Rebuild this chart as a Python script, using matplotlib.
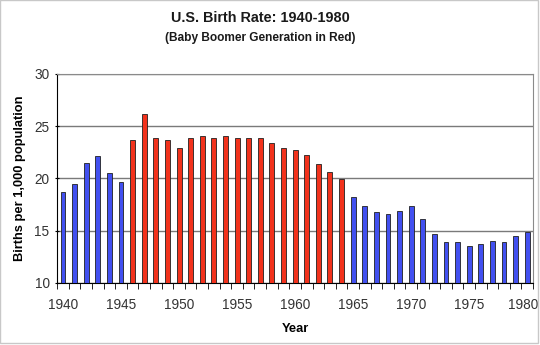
import matplotlib
matplotlib.use("Agg")
import matplotlib.pyplot as plt
import matplotlib.transforms as mtransforms
import numpy as np

plt.rcParams['font.family'] = ['Liberation Sans', 'DejaVu Sans']

years = list(range(1940, 1981))
rates = [18.65, 19.5, 21.5, 22.1, 20.5, 19.7,
         23.65, 26.15, 23.9, 23.65, 22.95, 23.9, 24.1, 23.9, 24.1, 23.85,
         23.9, 23.9, 23.4, 22.95, 22.7, 22.2, 21.4, 20.6, 19.95,
         18.2, 17.4, 16.8, 16.6, 16.9, 17.4, 16.15, 14.65, 13.95, 13.95,
         13.5, 13.75, 14.05, 13.95, 14.5, 14.9]
boomer_start, boomer_end = 1946, 1964
tick_years = [1940, 1945, 1950, 1955, 1960, 1965, 1970, 1975, 1980]

blue = "#4250f0"
red = "#f2321c"
colors = [red if boomer_start <= y <= boomer_end else blue for y in years]

fig = plt.figure(figsize=(5.4, 3.45), dpi=100)
ax = fig.add_axes([0.106, 0.18, 0.881, 0.606])

x = np.arange(len(years))
ax.bar(x, np.array(rates) - 10, bottom=10, width=0.42, color=colors,
       edgecolor="#202020", linewidth=0.6, zorder=3)

ax.set_xlim(-0.5, len(years) - 0.5)
ax.set_ylim(10, 30)
ax.set_yticks([10, 15, 20, 25, 30])
ax.yaxis.grid(True, color="#7a7a7a", linewidth=1.0, zorder=0)

# labels under the bars, tick marks on category boundaries
ax.set_xticks([years.index(y) for y in tick_years])
ax.set_xticklabels([str(y) for y in tick_years])
ax.set_xticks(np.arange(len(years) + 1) - 0.5, minor=True)
ax.tick_params(axis="x", which="major", length=0, pad=11, labelsize=9.8, colors="#333333")
ax.tick_params(axis="x", which="minor", length=4, direction="out", color="black")
ax.tick_params(axis="y", length=3, direction="inout", labelsize=9.8, colors="#333333",
               pad=4)
ax.tick_params(axis="y", which="major", color="black")

# last label sits right at the edge; pull it in a touch so it stays whole
last = ax.get_xticklabels()[-1]
last.set_transform(last.get_transform() +
                   mtransforms.ScaledTranslation(-4 / 100, 0, fig.dpi_scale_trans))

for s in ["top", "right"]:
    ax.spines[s].set_color("#8a8a8a")
for s in ["left", "bottom"]:
    ax.spines[s].set_color("black")

ax.set_xlabel("Year", fontsize=9.3, fontweight="bold", labelpad=8)
ax.set_ylabel("Births per 1,000 population", fontsize=9.3, fontweight="bold",
              labelpad=6)

fig.text(0.482, 0.948, "U.S. Birth Rate: 1940-1980", ha="center", va="center",
         fontsize=10.4, fontweight="bold", color="#1a1a1a")
fig.text(0.482, 0.891, "(Baby Boomer Generation in Red)", ha="center", va="center",
         fontsize=8.6, fontweight="bold", color="#1a1a1a")

# light frame around the whole picture
fig.patches.append(plt.Rectangle((0, 0.005), 0.997, 0.995, transform=fig.transFigure,
                                 fill=False, edgecolor="#c8c8c8", linewidth=1))

fig.savefig("out.png", dpi=100)
